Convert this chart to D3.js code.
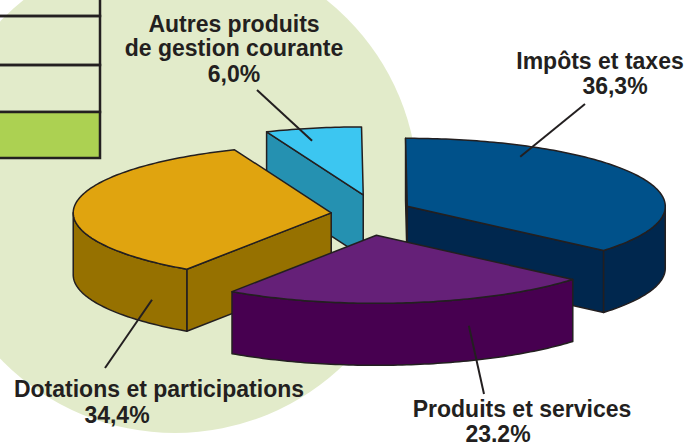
<!DOCTYPE html>
<html>
<head>
<meta charset="utf-8">
<script src="https://cdn.jsdelivr.net/npm/d3@7.9.0/dist/d3.min.js"></script>
<style>
  html, body { margin: 0; padding: 0; background: #fff; }
  svg { display: block; }
  .lbl { font-family: "Liberation Sans", Arial, sans-serif; font-weight: bold; font-size: 23px; fill: #231f20; }
</style>
</head>
<body>
<script>
// data, in clockwise order starting from the small slice at the top
const categories = ["Autres produits de gestion courante", "Impôts et taxes", "Produits et services", "Dotations et participations"];
const categoryLines = [["Autres produits", "de gestion courante"], ["Impôts et taxes"], ["Produits et services"], ["Dotations et participations"]];
const values = [6.0, 36.3, 23.2, 34.4];
const valueLabels = ["6,0%", "36,3%", "23.2%", "34,4%"];
const topColors = ["#3cc6f1", "#00518a", "#652078", "#e0a40f"];
const sideColors = ["#2591b1", "#00274e", "#470050", "#967100"];

// label layout: x / baseline of each text line, and where the leader line starts on the slice
const labelLines = [
  [[234, 32], [234, 56], [234, 82]],
  [[600, 69], [615, 94]],
  [[522, 417], [498, 442]],
  [[159, 397], [117, 423]]
];
const leaderOuter = [[257, 90], [585, 104], [484, 394], [105, 368]];
const leaderAnchor = [ // angle (deg), radius fraction, drop below top face
  [-104, 0.82, 0], [-59, 0.85, 0], [69, 1, 27], [134, 1, 38]
];

const W = 687, H = 443;
const svg = d3.select("body").append("svg").attr("width", W).attr("height", H);

// pale green disc in the background
svg.append("circle").attr("cx", 175).attr("cy", 190).attr("r", 243).attr("fill", "#e2ebca");

// cropped legend boxes top left
const legendRows = [[-10, 16], [16, 65], [65, 112], [112, 158]];
svg.selectAll("rect.leg").data(legendRows).join("rect")
  .attr("class", "leg")
  .attr("x", -10).attr("y", d => d[0])
  .attr("width", 110).attr("height", d => d[1] - d[0])
  .attr("fill", (d, i) => i === legendRows.length - 1 ? "#acd152" : "none")
  .attr("stroke", "#231f20").attr("stroke-width", 2.5);

// 3d pie geometry
const cx = 371, cy = 215, rx = 258, ry = 68, depth = 62, ex = 40, ey = 20.5;
const a0 = -22 * Math.PI / 180;
const pie = d3.pie().sort(null).value(d => d).startAngle(a0).endAngle(a0 + 2 * Math.PI);

const slices = pie(values).map((d, i) => {
  const t0 = d.startAngle - Math.PI / 2, t1 = d.endAngle - Math.PI / 2;
  const tm = (t0 + t1) / 2;
  return { i, t0, t1, tm, ox: cx + ex * Math.cos(tm), oy: cy + ey * Math.sin(tm) };
});

function pt(s, t, r = 1, h = 0) {
  return [s.ox + rx * r * Math.cos(t), s.oy + ry * r * Math.sin(t) + h];
}
function arcPts(s, a, b, h = 0) {
  const n = Math.max(2, Math.ceil(Math.abs(b - a) / (Math.PI / 180)));
  return d3.range(n + 1).map(k => pt(s, a + (b - a) * k / n, 1, h));
}
const line = d3.line();

const g = svg.append("g");
const order = slices.slice().sort((a, b) => Math.sin(a.tm) - Math.sin(b.tm));

order.forEach(s => {
  const stroke = "#231f20";
  const sg = g.append("g");
  const apex = [s.ox, s.oy], apexD = [s.ox, s.oy + depth];
  // radial cut faces
  if (Math.cos(s.t0) < 0) {
    const p = pt(s, s.t0), pd = pt(s, s.t0, 1, depth);
    sg.append("path").attr("d", line([apex, p, pd, apexD]) + "Z")
      .attr("fill", sideColors[s.i]).attr("stroke", stroke).attr("stroke-width", 1.5).attr("stroke-linejoin", "round");
  }
  if (Math.cos(s.t1) > 0) {
    const p = pt(s, s.t1), pd = pt(s, s.t1, 1, depth);
    sg.append("path").attr("d", line([apex, p, pd, apexD]) + "Z")
      .attr("fill", sideColors[s.i]).attr("stroke", stroke).attr("stroke-width", 1.5).attr("stroke-linejoin", "round");
  }
  // outer curved side, only the front half is visible
  [-1, 0, 1].forEach(k => {
    const lo = Math.max(s.t0, 2 * Math.PI * k), hi = Math.min(s.t1, 2 * Math.PI * k + Math.PI);
    if (hi > lo) {
      const top = arcPts(s, lo, hi), bot = arcPts(s, hi, lo, depth);
      sg.append("path").attr("d", line(top.concat(bot)) + "Z")
        .attr("fill", sideColors[s.i]).attr("stroke", stroke).attr("stroke-width", 1.5).attr("stroke-linejoin", "round");
    }
  });
  // top face
  sg.append("path").attr("d", line([apex].concat(arcPts(s, s.t0, s.t1))) + "Z")
    .attr("fill", topColors[s.i]).attr("stroke", stroke).attr("stroke-width", 1.5).attr("stroke-linejoin", "round");
});

// leader lines
slices.forEach(s => {
  const [deg, r, h] = leaderAnchor[s.i];
  const p = pt(s, deg * Math.PI / 180, r, h);
  svg.append("line")
    .attr("x1", p[0]).attr("y1", p[1])
    .attr("x2", leaderOuter[s.i][0]).attr("y2", leaderOuter[s.i][1])
    .attr("stroke", "#231f20").attr("stroke-width", 2);
});

// labels
categories.forEach((c, i) => {
  const lines = categoryLines[i].concat([valueLabels[i]]);
  const t = svg.append("text").attr("class", "lbl").attr("text-anchor", "middle");
  lines.forEach((txt, j) => {
    t.append("tspan").attr("x", labelLines[i][j][0]).attr("y", labelLines[i][j][1]).text(txt);
  });
});
</script>
</body>
</html>
